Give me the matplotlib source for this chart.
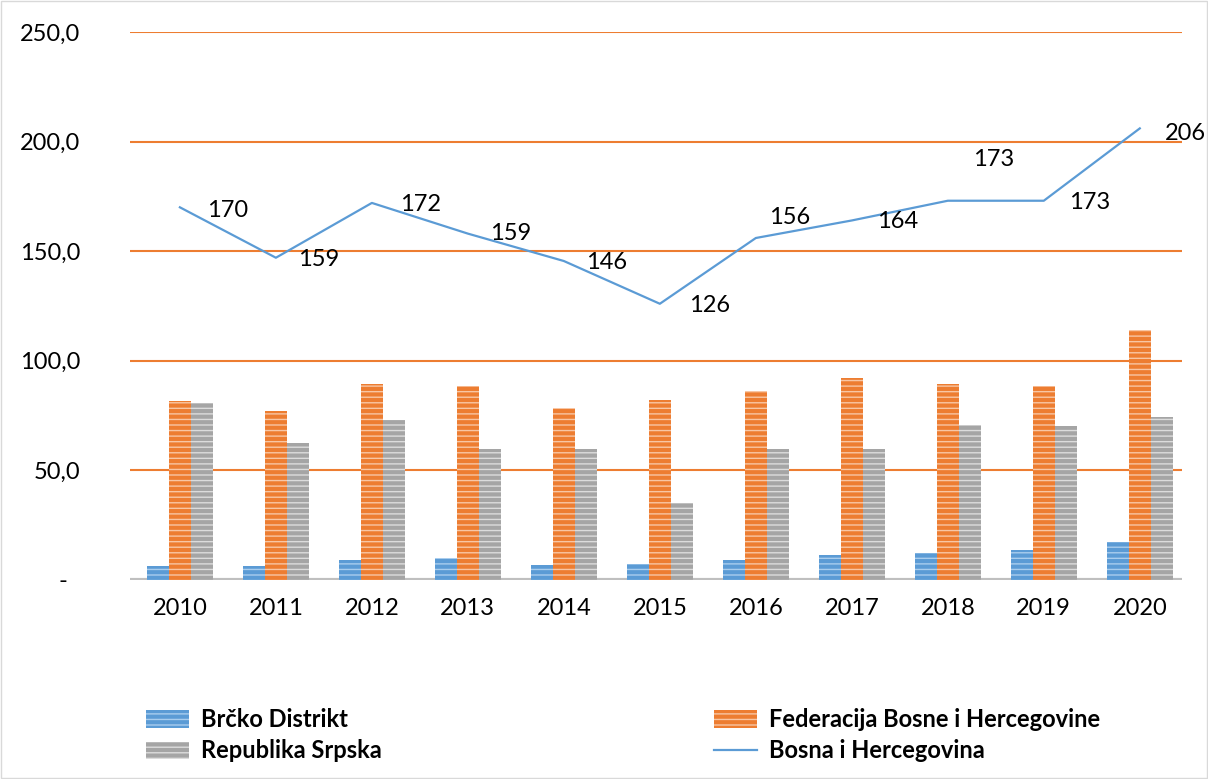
import numpy as np
import matplotlib.pyplot as plt
from matplotlib.patches import Rectangle

plt.rcParams['font.family'] = ['Lato', 'DejaVu Sans']

years = ['2010', '2011', '2012', '2013', '2014', '2015', '2016', '2017', '2018', '2019', '2020']
brcko = [6.4, 6.4, 9.1, 10.0, 6.8, 7.3, 9.1, 11.4, 12.3, 13.7, 17.3]
federacija = [81.7, 77.1, 89.4, 88.5, 78.5, 82.1, 86.2, 92.2, 89.4, 88.5, 114.0]
srpska = [80.7, 62.5, 73.0, 59.8, 59.8, 35.1, 59.8, 59.8, 70.7, 70.3, 74.4]
bih = [170, 147, 172, 158, 145.5, 126, 156, 164, 173, 173, 206]
bih_labels = ['170', '159', '172', '159', '146', '126', '156', '164', '173', '173', '206']

# label offsets in points (dx, dy)
lab_off = [(34, -2), (31, -1), (35, -1), (31, 0), (31, -1), (36, -1),
           (24, 15), (33, -1), (33, 30), (33, -1), (33, -4)]

fig = plt.figure(figsize=(12.08, 7.79), dpi=100)
ax = fig.add_axes([0.1076, 0.2555, 0.8709, 0.7035])

x = np.arange(len(years))
w = 0.23
ax.bar(x - w, brcko, w, color='#5b9bd5', edgecolor='#a9cdee', linewidth=0,
       hatch='---', label='Brčko Distrikt', zorder=3)
ax.bar(x, federacija, w, color='#ed7d31', edgecolor='#f8c6a4', linewidth=0,
       hatch='---', label='Federacija Bosne i Hercegovine', zorder=3)
ax.bar(x + w, srpska, w, color='#a5a5a5', edgecolor='#dcdcdc', linewidth=0,
       hatch='---', label='Republika Srpska', zorder=3)
ax.plot(x, bih, color='#5b9bd5', lw=1.6, label='Bosna i Hercegovina', zorder=4)

for i in range(len(years)):
    ax.annotate(bih_labels[i], (x[i], bih[i]), xytext=lab_off[i], textcoords='offset points',
                ha='center', va='center', fontsize=17, zorder=5)

ax.set_ylim(0, 250)
ax.set_xlim(-0.52, 10.44)
ax.set_yticks([0, 50, 100, 150, 200, 250])
ax.set_yticklabels(['-  ', '50,0', '100,0', '150,0', '200,0', '250,0'], fontsize=17)
ax.set_xticks(x)
ax.set_xticklabels(years, fontsize=17)
ax.tick_params(length=0)
ax.tick_params(axis='y', pad=36)
ax.tick_params(axis='x', pad=13)

for v in [50, 100, 150, 200, 250]:
    ax.axhline(v, color='#ed7d31', lw=1.5, zorder=1)
ax.axhline(0, color='#bfbfbf', lw=3, zorder=2)
for s in ax.spines.values():
    s.set_visible(False)

h, l = ax.get_legend_handles_labels()
order = [1, 3, 2, 0]  # brcko, srpska, federacija, bih
fig.legend([h[i] for i in order], [l[i] for i in order], ncol=2, frameon=False,
           loc='lower left', bbox_to_anchor=(0.103, -0.006), prop={'weight': 'bold', 'size': 17},
           handlelength=1.85, handleheight=0.75, handletextpad=0.5, columnspacing=14.05,
           labelspacing=0.35)

fig.add_artist(Rectangle((0.001, 0.001), 0.998, 0.998, transform=fig.transFigure,
                         fill=False, edgecolor='#d9d9d9', lw=1))

fig.savefig('out.png', dpi=100)
